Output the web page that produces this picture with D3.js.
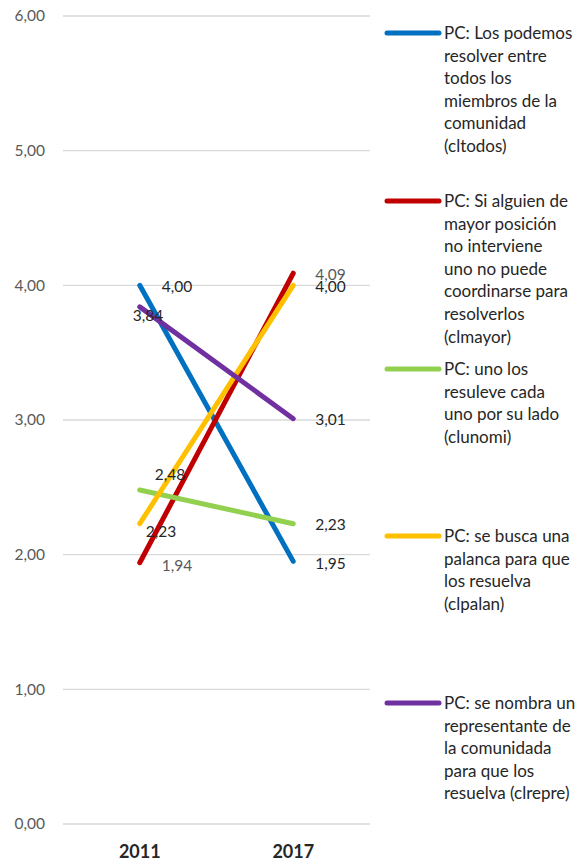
<!DOCTYPE html>
<html><head><meta charset="utf-8">
<script src="https://cdn.jsdelivr.net/npm/d3@7/dist/d3.min.js"></script>
<style>body{margin:0;background:#fff;}svg{display:block;font-family:Lato,"Open Sans",sans-serif;}</style>
</head><body>
<script>
const years = ["2011", "2017"];
const seriesNames = [
  "PC: Los podemos\nresolver entre\ntodos los\nmiembros de la\ncomunidad\n(cltodos)",
  "PC: Si alguien de\nmayor posición\nno interviene\nuno no puede\ncoordinarse para\nresolverlos\n(clmayor)",
  "PC: uno los\nresuleve cada\nuno por su lado\n(clunomi)",
  "PC: se busca una\npalanca para que\nlos resuelva\n(clpalan)",
  "PC: se nombra un\nrepresentante de\nla comunidada\npara que los\nresuelva (clrepre)"
];
const cltodos = [4.00, 1.95];
const clmayor = [1.94, 4.09];
const clunomi = [2.48, 2.23];
const clpalan = [2.23, 4.00];
const clrepre = [3.84, 3.01];
const yTicks = [0, 1, 2, 3, 4, 5, 6];

const colors = ["#0070C0", "#C00000", "#92D050", "#FFC000", "#7030A0"];
const seriesValues = [cltodos, clmayor, clunomi, clpalan, clrepre];
// label offsets [dx, dy] per series per year (styling)
const labelOffsets = [
  [[22, 1], [22, 2]],
  [[22, 3], [22, 1]],
  [[15, -15], [22, 1]],
  [[6, 8], [22, 1]],
  [[-7, 9], [22, 1]]
];
const labelColors = [
  ["#262626", "#262626"],
  ["#595959", "#595959"],
  ["#262626", "#262626"],
  ["#262626", "#262626"],
  ["#262626", "#262626"]
];
const legendY = [33, 201, 369, 536, 703];

const W = 581, H = 862;
const svg = d3.select("body").append("svg").attr("width", W).attr("height", H);

const x = d3.scaleBand().domain(years).range([63, 370]);
const y = d3.scaleLinear().domain([0, 6]).range([824, 16]);
const fmt = v => d3.format(".2f")(v).replace(".", ",");

// grid
svg.append("g").selectAll("line").data(yTicks).join("line")
  .attr("x1", 63).attr("x2", 370)
  .attr("y1", d => y(d)).attr("y2", d => y(d))
  .attr("stroke", "#d9d9d9").attr("stroke-width", 1.3);

// y axis
const yAxis = d3.axisLeft(y).tickValues(yTicks).tickFormat(fmt).tickSize(0).tickPadding(0);
const gy = svg.append("g").attr("transform", "translate(45,0)").call(yAxis);
gy.select(".domain").remove();
gy.selectAll("text").attr("font-size", 15.5).attr("fill", "#595959").attr("font-family", "Lato,sans-serif");

// x axis
const xAxis = d3.axisBottom(x).tickSize(0).tickPadding(0);
const gx = svg.append("g").attr("transform", "translate(0,845)").call(xAxis);
gx.select(".domain").remove();
gx.selectAll("text").attr("font-size", 18).attr("font-weight", "bold").attr("fill", "#262626").attr("font-family", "Lato,sans-serif");

const cx = d => x(d) + x.bandwidth() / 2;
const line = d3.line().x((d, i) => cx(years[i])).y(d => y(d));

svg.append("g").selectAll("path").data(seriesValues).join("path")
  .attr("d", d => line(d))
  .attr("fill", "none")
  .attr("stroke", (d, i) => colors[i])
  .attr("stroke-width", 5)
  .attr("stroke-linecap", "round");

// data labels
seriesValues.forEach((vals, si) => {
  vals.forEach((v, yi) => {
    const off = labelOffsets[si][yi];
    svg.append("text")
      .attr("x", cx(years[yi]) + off[0])
      .attr("y", y(v) + off[1])
      .attr("dy", "0.35em")
      .attr("font-size", 15.5)
      .attr("fill", labelColors[si][yi])
      .text(fmt(v));
  });
});

// legend
seriesNames.forEach((name, i) => {
  const g = svg.append("g").attr("transform", `translate(0,${legendY[i]})`);
  g.append("line").attr("x1", 387).attr("x2", 439).attr("y1", 0).attr("y2", 0)
    .attr("stroke", colors[i]).attr("stroke-width", 5).attr("stroke-linecap", "round");
  const t = g.append("text").attr("x", 444).attr("y", 0).attr("font-size", 17).attr("fill", "#262626");
  name.split("\n").forEach((ln, k) => {
    t.append("tspan").attr("x", 444).attr("y", k * 22.6).attr("dy", "0.35em").text(ln);
  });
});
</script>
</body></html>
